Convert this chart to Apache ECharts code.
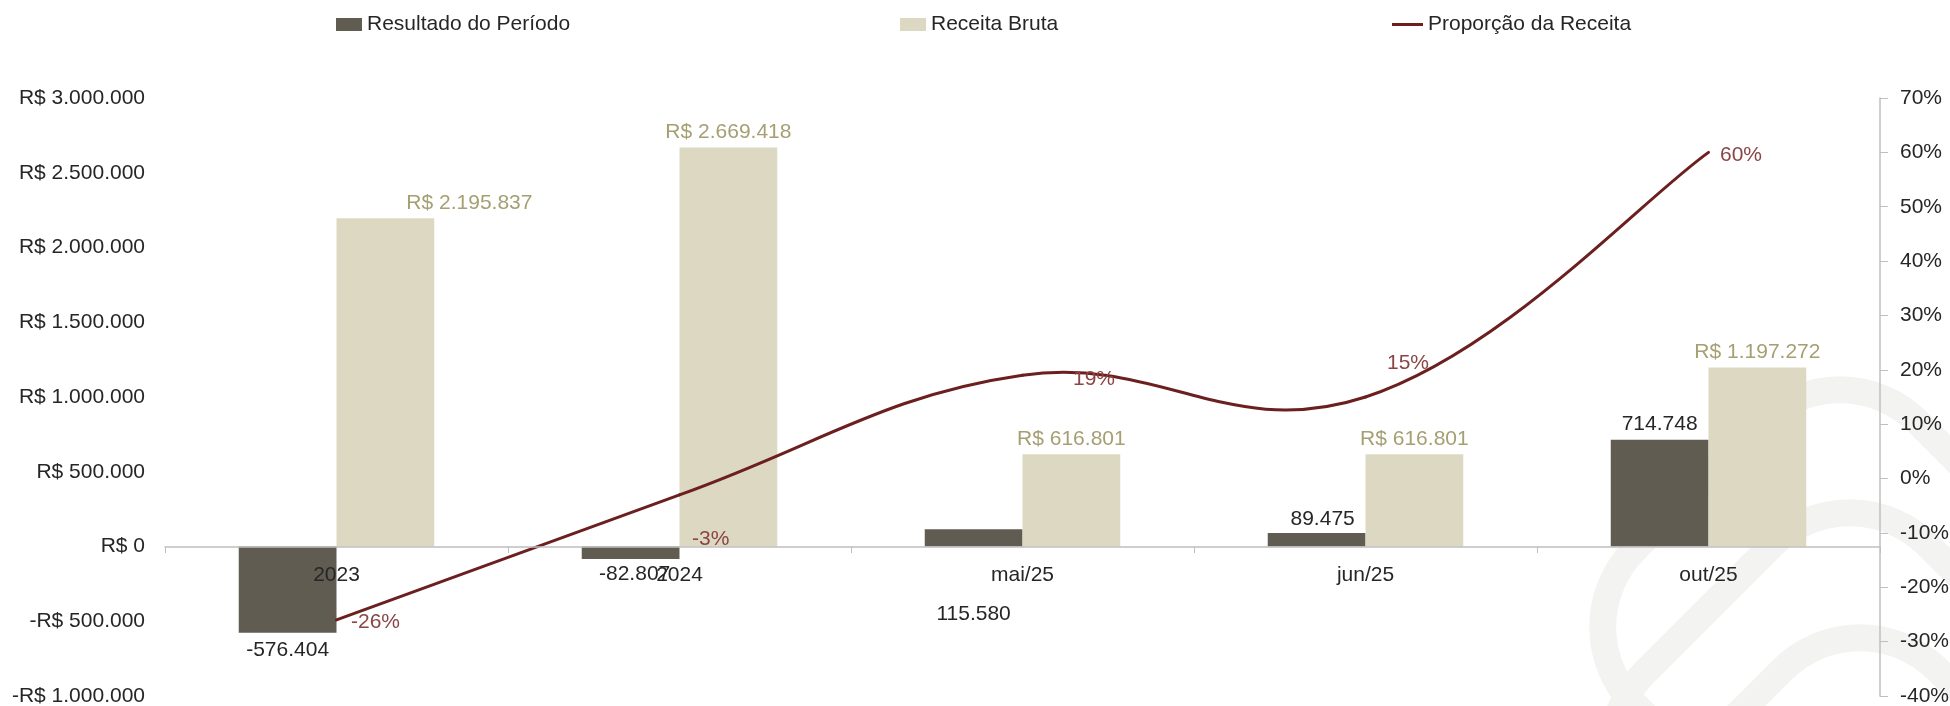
<!DOCTYPE html>
<html>
<head>
<meta charset="utf-8">
<script src="https://cdn.jsdelivr.net/npm/echarts@6/dist/echarts.min.js"></script>
<style>
html,body{margin:0;padding:0;background:#fff;}
#chart{width:1950px;height:706px;}
</style>
</head>
<body>
<div id="chart"></div>
<script>
const categories = ['2023', '2024', 'mai/25', 'jun/25', 'out/25'];
const resultado = [-576404, -82807, 115580, 89475, 714748];
const receita = [2195837, 2669418, 616801, 616801, 1197272];
const proporcao = [-26, -3, 19, 15, 60];
const seriesNames = ['Resultado do Período', 'Receita Bruta', 'Proporção da Receita'];

const FONT = '"Liberation Sans", Arial, sans-serif';

function fmtThousands(v) {
  const s = Math.round(Math.abs(v)).toString();
  return s.replace(/\B(?=(\d{3})+(?!\d))/g, '.');
}
function fmtMoney(v) {
  return (v < 0 ? '-' : '') + 'R$ ' + fmtThousands(v);
}
function fmtNum(v) {
  return (v < 0 ? '-' : '') + fmtThousands(v);
}

// per-point label placement (Excel manual nudges)
const resLabelPos = ['bottom', 'bottom', 'bottom', 'top', 'top'];
const resLabelOffset = [[0, 2], [4, 0], [0, 52], [6, 2], [0, 0]];
const recLabelOffset = [[84, 0], [0, 0], [0, 0], [0, 0], [0, 0]];
const propLabelOffset = [[9, 2], [7, 44], [45, 4], [16, -34], [6, 3]];

const LINE_COLOR = '#6B1F1F';
const SMOOTH = 0.2;

const chart = echarts.init(document.getElementById('chart'), null, {renderer: 'canvas'});

const watermarkColor = '#f3f3f1';
function wm(cx, cy) {
  return {
    type: 'rect', z: -10, silent: true,
    x: cx, y: cy, rotation: Math.PI / 4,
    shape: {x: -200, y: -200, width: 400, height: 400, r: 110},
    style: {fill: null, stroke: watermarkColor, lineWidth: 27}
  };
}

function renderCurve(params, api) {
  const i = params.dataIndex;
  const n = proporcao.length;
  if (i >= n - 1) return null;
  const pt = k => api.coord([Math.max(0, Math.min(n - 1, k)), proporcao[Math.max(0, Math.min(n - 1, k))]]);
  const p0 = pt(i - 1), p1 = pt(i), p2 = pt(i + 1), p3 = pt(i + 2);
  return {
    type: 'bezierCurve',
    shape: {
      x1: p1[0], y1: p1[1],
      x2: p2[0], y2: p2[1],
      cpx1: p1[0] + (p2[0] - p0[0]) * SMOOTH,
      cpy1: p1[1] + (p2[1] - p0[1]) * SMOOTH,
      cpx2: p2[0] - (p3[0] - p1[0]) * SMOOTH,
      cpy2: p2[1] - (p3[1] - p1[1]) * SMOOTH
    },
    style: {fill: null, stroke: LINE_COLOR, lineWidth: 3, lineCap: 'round'}
  };
}

const legendText = {fontFamily: FONT, fontSize: 21, color: '#262626'};

const option = {
  backgroundColor: '#ffffff',
  animation: false,
  textStyle: {fontFamily: FONT},
  graphic: [wm(1840, 627), wm(1850, 750), wm(1860, 875)],
  legend: [
    {top: 9, left: 331, itemWidth: 26, itemHeight: 13, textStyle: legendText,
      data: [{name: seriesNames[0], icon: 'rect'}]},
    {top: 9, left: 895, itemWidth: 26, itemHeight: 13, textStyle: legendText,
      data: [{name: seriesNames[1], icon: 'rect'}]},
    {top: 9, left: 1387, itemWidth: 31, itemHeight: 3, textStyle: legendText,
      data: [{name: seriesNames[2], icon: 'rect', itemStyle: {color: LINE_COLOR}}]}
  ],
  grid: {left: 165, right: 70, top: 98, bottom: 10, containLabel: false, outerBoundsMode: 'none'},
  xAxis: {
    type: 'category',
    data: categories,
    z: 10,
    boundaryGap: true,
    offset: -149,
    axisLine: {show: true, onZero: false, lineStyle: {color: '#bfbfbf', width: 1.5}},
    axisTick: {show: true, length: 6, lineStyle: {color: '#bfbfbf'}},
    axisLabel: {fontFamily: FONT, fontSize: 21, color: '#262626', margin: 18},
    splitLine: {show: false}
  },
  yAxis: [
    {
      type: 'value',
      min: -1000000, max: 3000000, interval: 500000,
      axisLine: {show: false},
      axisTick: {show: false},
      splitLine: {show: false},
      axisLabel: {fontFamily: FONT, fontSize: 21, color: '#262626', margin: 20, formatter: fmtMoney}
    },
    {
      type: 'value',
      position: 'right',
      min: -40, max: 70, interval: 10,
      axisLine: {show: true, lineStyle: {color: '#bfbfbf', width: 1.5}},
      axisTick: {show: true, length: 8, inside: false, lineStyle: {color: '#bfbfbf'}},
      splitLine: {show: false},
      axisLabel: {fontFamily: FONT, fontSize: 21, color: '#262626', margin: 20, formatter: v => v + '%'}
    }
  ],
  series: [
    {
      name: seriesNames[0],
      type: 'bar',
      yAxisIndex: 0,
      barGap: '0%',
      barCategoryGap: '43%',
      itemStyle: {color: '#605C51'},
      data: resultado.map((v, i) => ({
        value: v,
        label: {show: true, position: resLabelPos[i], offset: resLabelOffset[i]}
      })),
      label: {show: true, fontFamily: FONT, fontSize: 21, color: '#262626', distance: 5,
        formatter: p => fmtNum(p.value)}
    },
    {
      name: seriesNames[1],
      type: 'bar',
      yAxisIndex: 0,
      barGap: '0%',
      barCategoryGap: '43%',
      itemStyle: {color: '#DDD8C1'},
      data: receita.map((v, i) => ({
        value: v,
        label: {show: true, position: 'top', offset: recLabelOffset[i]}
      })),
      label: {show: true, fontFamily: FONT, fontSize: 21, color: '#A69F72', distance: 5,
        formatter: p => fmtMoney(p.value)}
    },
    {
      name: seriesNames[2],
      type: 'custom',
      yAxisIndex: 1,
      z: 5,
      itemStyle: {color: LINE_COLOR},
      renderItem: renderCurve,
      data: proporcao.map((v, i) => [i, v])
    },
    {
      name: '_proporcaoLabels',
      type: 'line',
      yAxisIndex: 1,
      z: 6,
      symbol: 'circle',
      symbolSize: 1,
      showSymbol: true,
      lineStyle: {opacity: 0, width: 0},
      itemStyle: {color: 'rgba(0,0,0,0)'},
      data: proporcao.map((v, i) => ({
        value: v,
        label: {show: true, position: 'right', offset: propLabelOffset[i]}
      })),
      label: {show: true, fontFamily: FONT, fontSize: 21, color: '#8B4545', distance: 5,
        formatter: p => p.value + '%'}
    }
  ]
};
chart.setOption(option);
</script>
</body>
</html>
